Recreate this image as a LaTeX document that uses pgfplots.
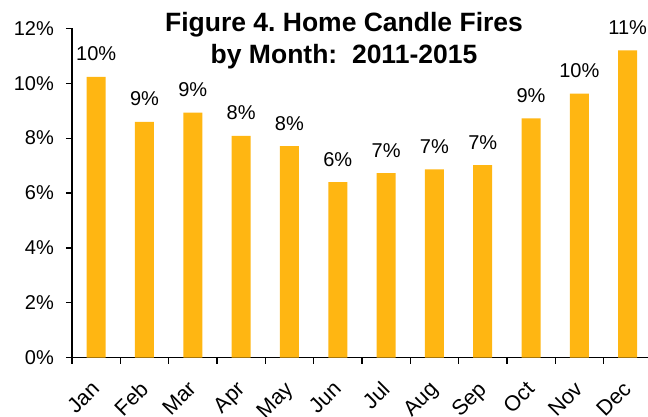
\documentclass[border=0pt]{standalone}
\usepackage{fontspec}
\setmainfont{Liberation Sans}
\usepackage{pgfplots}
\pgfplotsset{compat=1.18}
\definecolor{barc}{RGB}{255,182,18}
\begin{document}
\frenchspacing
\begin{tikzpicture}
\path[use as bounding box] (-72pt,-58.3pt) rectangle (576pt,357.7pt);
\begin{axis}[
  at={(0pt,0pt)}, anchor=south west,
  scale only axis, width=576pt, height=329.4pt,
  xmin=-0.5, xmax=11.42, ymin=0, ymax=12,
  axis x line*=bottom, axis y line*=left,
  axis line style={line width=1.5pt, black},
  ybar, bar width=19pt,
  xtick={0,...,11},
  xticklabels={Jan,Feb,Mar,Apr,May,Jun,Jul,Aug,Sep,Oct,Nov,Dec},
  minor xtick={-0.5,0.5,...,10.5},
  ytick={0,2,...,12},
  yticklabels={0\%,2\%,4\%,6\%,8\%,10\%,12\%},
  tick align=outside,
  major tick length=6pt, minor tick length=6pt,
  tick style={line width=1.2pt, black},
  major x tick style={draw=none},
  tick label style={font=\fontsize{20}{24}\selectfont},
  xticklabel style={font=\fontsize{21.5}{24}\selectfont, xshift=-6pt, yshift=-16pt, rotate=45, anchor=north east, inner sep=0pt},
  yticklabel style={inner sep=0pt, xshift=-12pt},
  point meta=explicit symbolic,
  nodes near coords,
  every node near coord/.append style={font=\fontsize{20}{24}\selectfont, anchor=base, inner sep=0pt, yshift=16pt},
  clip=false,
]
\addplot[fill=barc, draw=none] coordinates {
  (0,10.23) [10\%]
  (1,8.59) [9\%]
  (2,8.93) [9\%]
  (3,8.08) [8\%]
  (4,7.71) [8\%]
  (5,6.40) [6\%]
  (6,6.72) [7\%]
  (7,6.86) [7\%]
  (8,7.02) [7\%]
  (9,8.72) [9\%]
  (10,9.62) [10\%]
  (11,11.20) [11\%]
};
\end{axis}
\node[anchor=base, font=\fontsize{26.5}{30}\selectfont\bfseries, inner sep=0pt] at (272pt,326pt) {Figure 4. Home Candle Fires};
\node[anchor=base, font=\fontsize{26.5}{30}\selectfont\bfseries, inner sep=0pt] at (272pt,294.7pt) {by Month:\ \ 2011-2015};
\end{tikzpicture}
\end{document}
